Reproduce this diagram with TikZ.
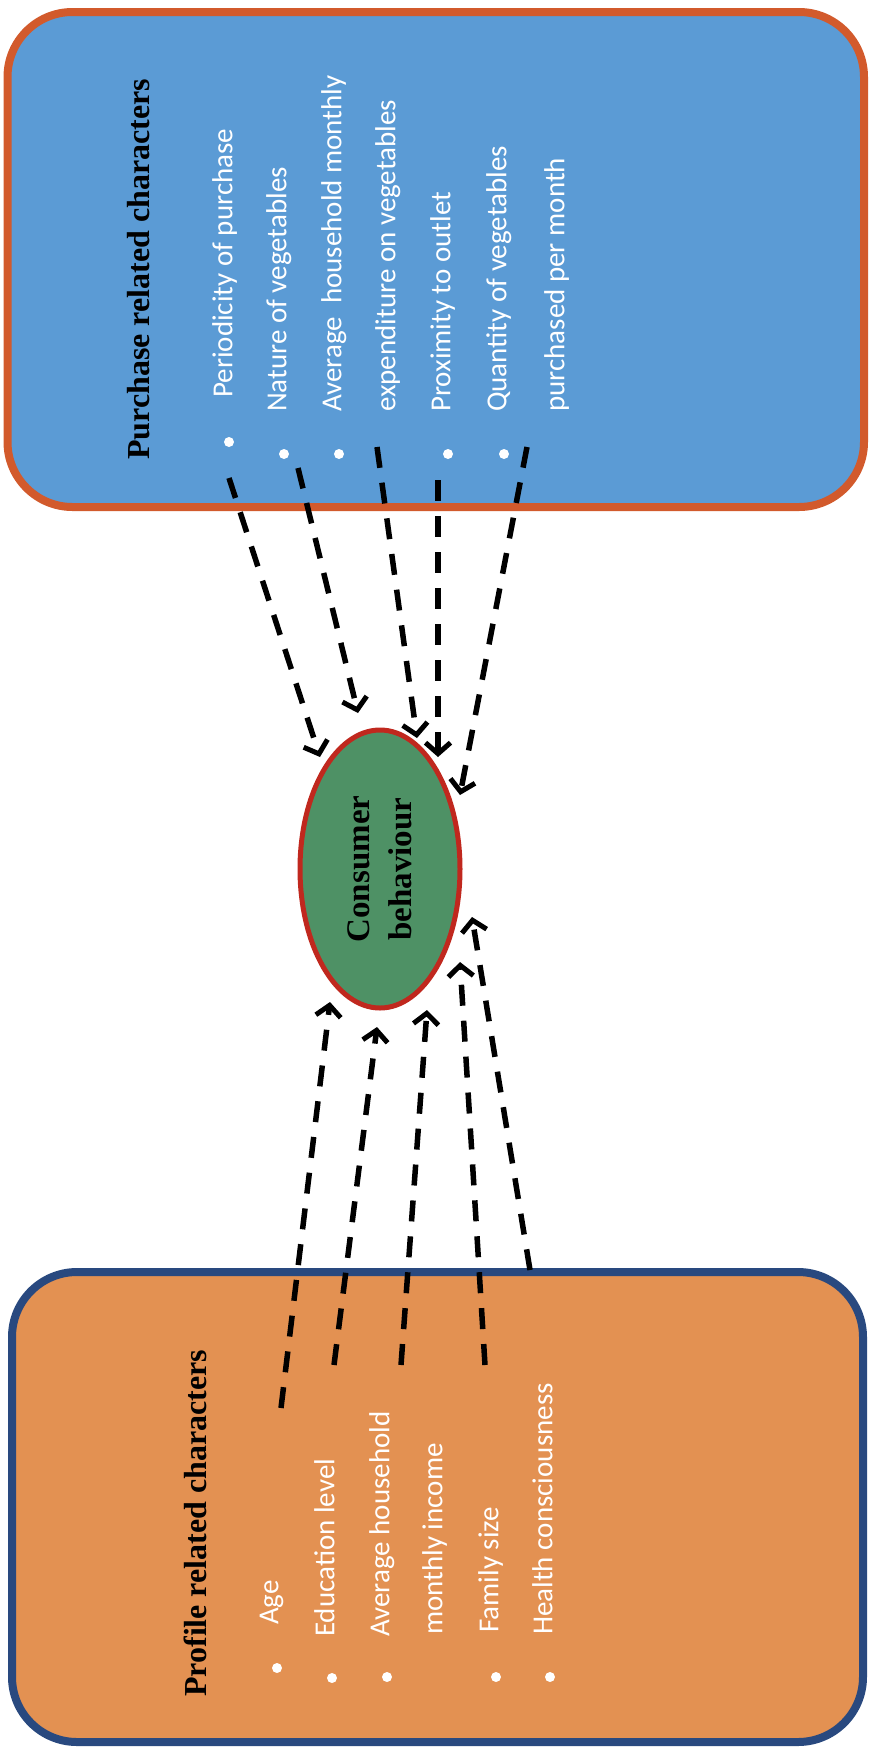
\documentclass[tikz,border=0pt]{standalone}
\usepackage{fontspec}
\setmainfont{Liberation Serif}
\newfontfamily\itemfont{Carlito}
\usetikzlibrary{arrows.meta,shapes.geometric}
\definecolor{boxblue}{HTML}{5B9BD5}
\definecolor{blueborder}{HTML}{D25A2C}
\definecolor{boxorange}{HTML}{E39152}
\definecolor{orangeborder}{HTML}{29497F}
\definecolor{ellgreen}{HTML}{4E9165}
\definecolor{ellred}{HTML}{C0281E}
\begin{document}
\begin{tikzpicture}[x=1pt,y=-1pt,
  panel/.style={rounded corners=65pt, line width=8pt, inner sep=0pt},
  itemtext/.style={rotate=90, anchor=mid west, inner sep=0pt, text=white, font=\itemfont\fontsize{29}{35}\selectfont},
  titletext/.style={rotate=90, anchor=mid west, inner sep=0pt, text=black, font=\bfseries\fontsize{32}{38}\selectfont},
  bulletdot/.style={circle, fill=white, inner sep=0pt, minimum size=10pt},
  link/.style={line width=5.5pt, dash pattern=on 21pt off 15pt, -{Straight Barb[length=11pt,width=25pt,line width=5pt]}}]
\useasboundingbox (0,0) rectangle (874,1749);
% panels
\node[panel, draw=blueborder, fill=boxblue, minimum width=856.5pt, minimum height=495pt] (pbox) at (435.75,259.5) {};
\node[panel, draw=orangeborder, fill=boxorange, minimum width=851pt, minimum height=470pt] (rbox) at (437.5,1507) {};
% purchase texts
\node[titletext] (ptitle) at (147,460) {Purchase related characters};
\node[bulletdot] (pb1) at (229,442) {};
\node[itemtext] (pi1) at (230,398) {Periodicity of purchase};
\node[bulletdot] (pb2) at (284,454) {};
\node[itemtext] (pi2) at (284,412) {Nature of vegetables};
\node[bulletdot] (pb3) at (339,454) {};
\node[itemtext] (pi3) at (339,412) {Average\ \ household monthly};
\node[itemtext] (pi3b) at (393,412) {expenditure on vegetables};
\node[bulletdot] (pb4) at (448,454) {};
\node[itemtext] (pi4) at (448,412) {Proximity to outlet};
\node[bulletdot] (pb5) at (504,454) {};
\node[itemtext] (pi5) at (504,412) {Quantity of vegetables};
\node[itemtext] (pi5b) at (562,412) {purchased per month};
% profile texts
\node[titletext] (rtitle) at (204,1697) {Profile related characters};
\node[bulletdot] (rb1) at (277,1668) {};
\node[itemtext] (ri1) at (276,1625) {Age};
\node[bulletdot] (rb2) at (332,1678) {};
\node[itemtext] (ri2) at (332,1637) {Education level};
\node[bulletdot] (rb3) at (387,1677) {};
\node[itemtext] (ri3) at (387,1637) {Average household};
\node[itemtext] (ri3b) at (440,1635) {monthly income};
\node[bulletdot] (rb4) at (496,1677) {};
\node[itemtext] (ri4) at (496,1633) {Family size};
\node[bulletdot] (rb5) at (550,1677) {};
\node[itemtext] (ri5) at (550,1635) {Health consciousness};
% centre
\node[ellipse, rotate=90, draw=ellred, fill=ellgreen, line width=5pt, minimum width=278pt, minimum height=160pt, inner sep=0pt, align=center, font=\bfseries\fontsize{33}{42}\selectfont] (cb) at (380,869) {Consumer\\behaviour};
% arrow coordinates
\coordinate (ps1) at (229,478); \coordinate (pt1) at (320,757);
\coordinate (ps2) at (298,468); \coordinate (pt2) at (358,713);
\coordinate (ps3) at (377,447); \coordinate (pt3) at (417,738);
\coordinate (ps4) at (438,480); \coordinate (pt4) at (438,757);
\coordinate (ps5) at (527,447); \coordinate (pt5) at (460,795);
\coordinate (rs1) at (281,1408); \coordinate (rt1) at (330,1002);
\coordinate (rs2) at (334,1365); \coordinate (rt2) at (377,1027);
\coordinate (rs3) at (401,1365); \coordinate (rt3) at (427,1010);
\coordinate (rs4) at (485,1365); \coordinate (rt4) at (460,962);
\coordinate (rs5) at (530,1270); \coordinate (rt5) at (472,917);
\foreach \i in {1,...,5}{
  \draw[link] (ps\i) -- (pt\i);
  \draw[link] (rs\i) -- (rt\i);
}
\end{tikzpicture}
\end{document}
